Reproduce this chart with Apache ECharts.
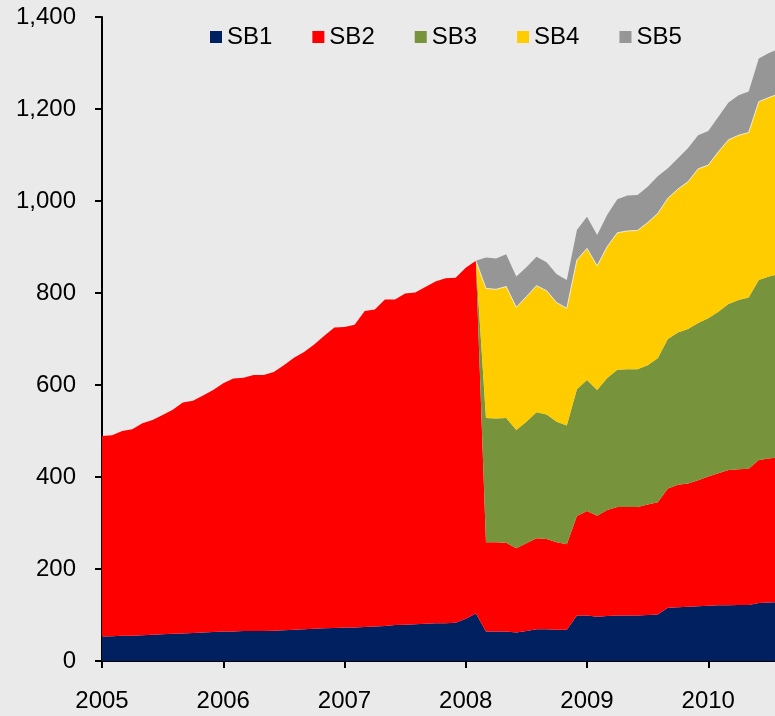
<!DOCTYPE html>
<html>
<head>
<meta charset="utf-8">
<script src="https://cdn.jsdelivr.net/npm/echarts@6/dist/echarts.min.js"></script>
<style>
  html, body { margin: 0; padding: 0; background: #eaeaea; }
  #main { width: 775px; height: 716px; }
</style>
</head>
<body>
<div id="main"></div>
<script>
// monthly values from Jan 2005, one entry per month
const years = ['2005', '2006', '2007', '2008', '2009', '2010'];
const yTicks = ['0', '200', '400', '600', '800', '1,000', '1,200', '1,400'];
const seriesNames = ['SB1', 'SB2', 'SB3', 'SB4', 'SB5'];

const sb1 = [
  53, 54, 55, 55, 56, 57, 58, 59, 60, 61, 62, 63,
  64, 64, 65, 65, 65, 66, 67, 68, 69, 70, 71, 72,
  73, 73, 74, 75, 76, 78, 79, 80, 81, 82, 82, 83,
  92, 103, 64, 64, 64, 62, 65, 69, 69, 68, 68, 99,
  99, 96, 98, 99, 99, 99, 100, 101, 116, 117, 118, 119,
  120, 121, 121, 122, 122, 126, 127, 128
];
const sb2 = [
  436, 437, 445, 449, 461, 467, 477, 487, 502, 505, 515, 526,
  540, 550, 551, 557, 557, 562, 576, 591, 603, 618, 636, 653,
  653, 658, 687, 689, 710, 708, 720, 721, 732, 743, 750, 750,
  763, 767, 194, 194, 193, 183, 191, 198, 196, 190, 186, 216,
  227, 220, 230, 236, 236, 236, 240, 244, 259, 266, 268, 274,
  281, 287, 294, 295, 296, 311, 313, 315
];
const sb3 = [
  null, null, null, null, null, null, null, null, null, null, null, null,
  null, null, null, null, null, null, null, null, null, null, null, null,
  null, null, null, null, null, null, null, null, null, null, null, null,
  null, 0, 270, 269, 271, 257, 264, 274, 271, 262, 258, 276,
  285, 273, 287, 298, 299, 299, 303, 313, 325, 331, 336, 342,
  344, 351, 361, 368, 372, 391, 396, 398
];
const sb4 = [
  null, null, null, null, null, null, null, null, null, null, null, null,
  null, null, null, null, null, null, null, null, null, null, null, null,
  null, null, null, null, null, null, null, null, null, null, null, null,
  null, 0, 282, 281, 286, 267, 272, 275, 269, 259, 255, 281,
  286, 270, 286, 298, 301, 302, 310, 315, 306, 312, 320, 335,
  333, 348, 357, 358, 359, 388, 389, 392
];
const sb5 = [
  null, null, null, null, null, null, null, null, null, null, null, null,
  null, null, null, null, null, null, null, null, null, null, null, null,
  null, null, null, null, null, null, null, null, null, null, null, null,
  null, 0, 67, 67, 70, 67, 64, 63, 62, 62, 61, 65,
  69, 67, 69, 73, 77, 77, 78, 81, 65, 67, 73, 73,
  74, 76, 81, 87, 89, 94, 97, 98
];

// month categories, Jan 2005 onwards
const months = sb1.map((_, i) => years[0] * 1 + Math.floor(i / 12) + '-' + String(i % 12 + 1).padStart(2, '0'));

const colors = ['#002060', '#ff0000', '#77933c', '#ffcc00', '#969696'];
const font = "'Liberation Sans', Arial, sans-serif";

const chartDom = document.getElementById('main');
const myChart = echarts.init(chartDom, null, { renderer: 'canvas' });
let option;

const isJan = (idx) => idx % 12 === 0;

option = {
  animation: false,
  backgroundColor: '#eaeaea',
  color: colors,
  textStyle: { fontFamily: font },
  grid: { left: 102, right: -4, top: 17, bottom: 55, outerBoundsMode: 'none' },
  legend: {
    left: 205,
    top: 20,
    icon: 'rect',
    itemWidth: 12,
    itemHeight: 12,
    itemGap: 40,
    textStyle: { fontSize: 24, color: '#000', fontFamily: font },
    data: seriesNames
  },
  xAxis: {
    type: 'category',
    boundaryGap: false,
    data: months,
    axisLine: { show: true, lineStyle: { color: '#000', width: 2 } },
    axisTick: { show: true, length: 7, interval: isJan, lineStyle: { color: '#000', width: 2 } },
    splitLine: { show: false },
    axisLabel: {
      interval: isJan,
      margin: 28,
      fontSize: 24,
      color: '#000',
      fontFamily: font,
      formatter: (v) => v.slice(0, 4)
    }
  },
  yAxis: {
    type: 'value',
    min: 0,
    max: 1400,
    interval: 200,
    axisLine: { show: true, lineStyle: { color: '#000', width: 2 } },
    axisTick: { show: true, length: 7, lineStyle: { color: '#000', width: 2 } },
    splitLine: { show: false },
    axisLabel: {
      margin: 26,
      fontSize: 24,
      color: '#000',
      fontFamily: font,
      formatter: (v) => yTicks[v / 200]
    }
  },
  series: [sb1, sb2, sb3, sb4, sb5].map((arr, k) => ({
    name: seriesNames[k],
    type: 'line',
    stack: 'total',
    symbol: 'none',
    areaStyle: { opacity: 1, color: colors[k] },
    lineStyle: k === 3
      ? { width: 1, color: 'rgba(255,255,255,0.7)' }
      : { width: 0, opacity: 0 },
    data: arr
  }))
};

option && myChart.setOption(option);
</script>
</body>
</html>
